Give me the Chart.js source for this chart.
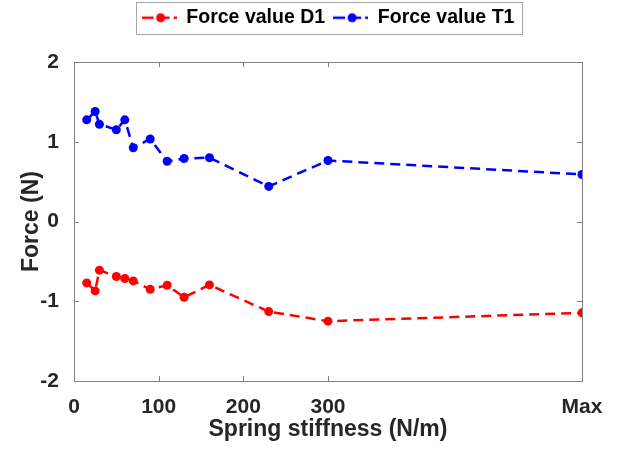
<!DOCTYPE html>
<html>
<head>
<meta charset="utf-8">
<script src="https://cdn.jsdelivr.net/npm/chart.js@4"></script>
<style>
  html, body { margin: 0; padding: 0; background: #fff; }
  canvas { display: block; }
</style>
</head>
<body>
<canvas id="forceChart" width="623" height="449"></canvas>
<script>
// Spring stiffness values; "Max" is placed at 600 on the axis
const stiffness = [15, 25, 30, 50, 60, 70, 90, 110, 130, 160, 230, 300, 600];
const forceD1 = [-0.77, -0.87, -0.61, -0.69, -0.715, -0.745, -0.85, -0.80, -0.95, -0.795, -1.13, -1.25, -1.145];
const forceT1 = [1.275, 1.38, 1.22, 1.15, 1.275, 0.925, 1.035, 0.755, 0.79, 0.80, 0.44, 0.765, 0.59];
const xTicks = [0, 100, 200, 300, 600];
const xTickLabels = ['0', '100', '200', '300', 'Max'];
const yTicks = [-2, -1, 0, 1, 2];

const font = "'Liberation Sans', Arial, Helvetica, sans-serif";
const textColor = '#262626';
const axisColor = '#808080';

// small legend sample: dashed line with a dot in the middle
function legendSample(color) {
    const c = document.createElement('canvas');
    c.width = 35;
    c.height = 12;
    const g = c.getContext('2d');
    g.strokeStyle = color;
    g.lineWidth = 2.5;
    g.setLineDash([12, 4]);
    g.beginPath();
    g.moveTo(0, 6);
    g.lineTo(35, 6);
    g.stroke();
    g.fillStyle = color;
    g.beginPath();
    g.arc(19, 6, 4.5, 0, Math.PI * 2);
    g.fill();
    return c;
}

// MATLAB style box with inward ticks, plus a frame round the legend
const boxPlugin = {
    id: 'boxPlugin',
    beforeInit(chart) {
        const origFit = chart.legend.fit;
        chart.legend.fit = function () {
            origFit.call(this);
            this.height = 62;
        };
    },
    afterDraw(chart) {
        const ctx = chart.ctx;
        const a = chart.chartArea;
        const xs = chart.scales.x;
        const ys = chart.scales.y;
        ctx.save();
        ctx.strokeStyle = axisColor;
        ctx.lineWidth = 1;
        ctx.strokeRect(a.left + 0.5, a.top + 0.5, a.right - a.left, a.bottom - a.top);
        const len = 5;
        ctx.beginPath();
        xTicks.forEach(v => {
            const px = Math.round(xs.getPixelForValue(v)) + 0.5;
            ctx.moveTo(px, a.bottom);
            ctx.lineTo(px, a.bottom - len);
            ctx.moveTo(px, a.top);
            ctx.lineTo(px, a.top + len);
        });
        yTicks.forEach(v => {
            const py = Math.round(ys.getPixelForValue(v)) + 0.5;
            ctx.moveTo(a.left, py);
            ctx.lineTo(a.left + len, py);
            ctx.moveTo(a.right, py);
            ctx.lineTo(a.right - len, py);
        });
        ctx.stroke();

        // legend frame
        const hb = chart.legend.legendHitBoxes;
        if (hb && hb.length) {
            const first = hb[0];
            const last = hb[hb.length - 1];
            const l = first.left - 6;
            const r = last.left + last.width + 7;
            const mid = first.top + first.height / 2;
            ctx.strokeStyle = '#a6a6a6';
            ctx.strokeRect(Math.round(l) + 0.5, Math.round(mid - 16) + 0.5, Math.round(r - l), 32);
        }
        ctx.restore();
    }
};

const samples = { D1: legendSample('#ff0000'), T1: legendSample('#0000ff') };

new Chart(document.getElementById('forceChart'), {
    type: 'line',
    data: {
        datasets: [{
            label: 'Force value D1',
            data: stiffness.map((x, i) => ({ x: x, y: forceD1[i] })),
            borderColor: '#ff0000',
            backgroundColor: '#ff0000',
            borderWidth: 2.5,
            borderDash: [10, 6],
            pointRadius: 4.5,
            pointHoverRadius: 4.5,
            pointBorderWidth: 0,
            tension: 0
        }, {
            label: 'Force value T1',
            data: stiffness.map((x, i) => ({ x: x, y: forceT1[i] })),
            borderColor: '#0000ff',
            backgroundColor: '#0000ff',
            borderWidth: 2.5,
            borderDash: [10, 6],
            pointRadius: 4.5,
            pointHoverRadius: 4.5,
            pointBorderWidth: 0,
            tension: 0
        }]
    },
    options: {
        responsive: false,
        animation: false,
        layout: { padding: { left: 18, right: 41, top: 0, bottom: 6 } },
        scales: {
            x: {
                type: 'linear',
                min: 0,
                max: 600,
                afterBuildTicks: scale => { scale.ticks = xTicks.map(v => ({ value: v })); },
                afterFit: scale => { scale.height = 62; },
                grid: { display: false },
                border: { display: false },
                ticks: {
                    color: textColor,
                    padding: 6,
                    maxRotation: 0,
                    autoSkip: false,
                    font: { family: font, size: 21, weight: 'bold' },
                    callback: v => xTickLabels[xTicks.indexOf(v)]
                },
                title: {
                    display: true,
                    text: 'Spring stiffness (N/m)',
                    color: textColor,
                    padding: { top: 0, bottom: 0 },
                    font: { family: font, size: 23, weight: 'bold' }
                }
            },
            y: {
                min: -2,
                max: 2,
                afterBuildTicks: scale => { scale.ticks = yTicks.map(v => ({ value: v })); },
                afterFit: scale => { scale.width = 56; },
                grid: { display: false },
                border: { display: false },
                ticks: {
                    color: textColor,
                    padding: 7,
                    font: { family: font, size: 21, weight: 'bold' }
                },
                title: {
                    display: true,
                    text: 'Force (N)',
                    color: textColor,
                    padding: { top: 0, bottom: 0 },
                    font: { family: font, size: 23, weight: 'bold' }
                }
            }
        },
        plugins: {
            tooltip: { enabled: false },
            legend: {
                display: true,
                position: 'top',
                fullSize: false,
                labels: {
                    color: '#000',
                    padding: 8,
                    usePointStyle: true,
                    pointStyleWidth: 35,
                    font: { family: font, size: 19.5, weight: 'bold' },
                    generateLabels: chart => chart.data.datasets.map((ds, i) => ({
                        text: ds.label,
                        pointStyle: i === 0 ? samples.D1 : samples.T1,
                        fillStyle: ds.borderColor,
                        strokeStyle: ds.borderColor,
                        lineWidth: 0,
                        hidden: false,
                        datasetIndex: i
                    }))
                }
            }
        }
    },
    plugins: [boxPlugin]
});
</script>
</body>
</html>
